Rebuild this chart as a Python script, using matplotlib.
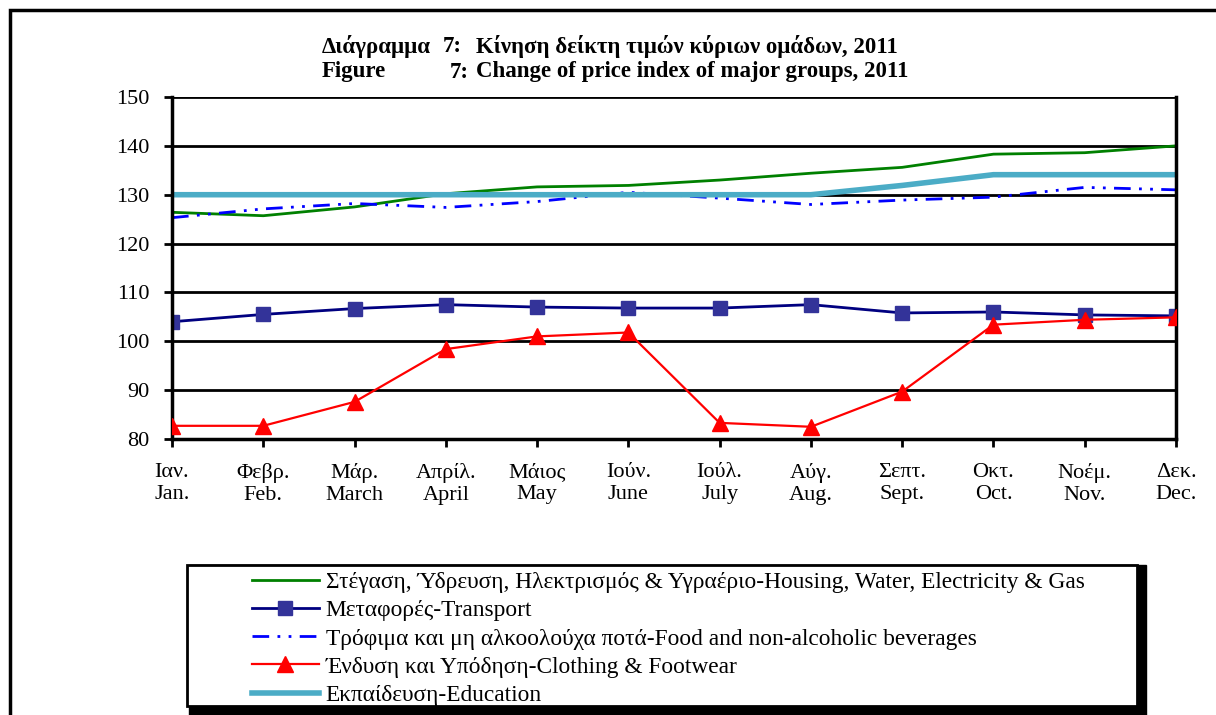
import matplotlib
matplotlib.use('Agg')
import matplotlib.pyplot as plt
from matplotlib.patches import Rectangle

plt.rcParams['font.family'] = ['Liberation Serif', 'DejaVu Serif']

# month labels (Greek / English)
months_gr = ['Ιαν.', 'Φεβρ.', 'Μάρ.', 'Απρίλ.', 'Μάιος', 'Ιούν.', 'Ιούλ.', 'Αύγ.', 'Σεπτ.', 'Οκτ.', 'Νοέμ.', 'Δεκ.']
months_en = ['Jan.', 'Feb.', 'March', 'April', 'May', 'June', 'July', 'Aug.', 'Sept.', 'Oct.', 'Nov.', 'Dec.']

# price index values, 2011
housing = [126.4, 125.7, 127.5, 130.2, 131.6, 131.9, 133.0, 134.4, 135.6, 138.3, 138.6, 140.0]
transport = [104.0, 105.5, 106.7, 107.5, 107.0, 106.8, 106.8, 107.5, 105.8, 106.0, 105.4, 105.2]
food = [125.3, 127.1, 128.2, 127.4, 128.6, 130.5, 129.3, 128.0, 128.9, 129.5, 131.5, 131.0]
clothing = [82.7, 82.7, 87.6, 98.4, 101.0, 101.8, 83.3, 82.5, 89.7, 103.4, 104.4, 104.9]
education = [130.0, 130.0, 130.0, 130.0, 130.0, 130.0, 130.0, 130.0, 131.9, 134.1, 134.1, 134.1]

labels = ['Στέγαση, Ύδρευση, Ηλεκτρισμός & Υγραέριο-Housing, Water, Electricity & Gas',
          'Μεταφορές-Transport',
          'Τρόφιμα και μη αλκοολούχα ποτά-Food and non-alcoholic beverages',
          'Ένδυση και Υπόδηση-Clothing & Footwear',
          'Εκπαίδευση-Education']

W, H = 1216, 715
fig = plt.figure(figsize=(W / 100, H / 100), dpi=100)
ax = fig.add_axes([172 / W, 1 - 439 / H, (1176 - 172) / W, (439 - 97) / H])

x = list(range(len(months_en)))
l1, = ax.plot(x, housing, color='#008000', lw=2)
l2, = ax.plot(x, transport, color='#000080', lw=2, marker='s', ms=10,
              markerfacecolor='#333399', markeredgecolor='#333399')
l3, = ax.plot(x, food, color='#0000FF', lw=2, linestyle=(0, (6, 3, 1, 3, 1, 3)))
l4, = ax.plot(x, clothing, color='#FF0000', lw=1.6, marker='^', ms=11,
              markerfacecolor='#FF0000', markeredgecolor='#FF0000')
l5, = ax.plot(x, education, color='#4BACC6', lw=4)
l4.set_zorder(5)

ax.set_xlim(0, 11)
ax.set_ylim(80, 150)
ax.set_yticks(range(80, 151, 10))
ax.set_xticks(x)
ax.set_xticklabels([g + '\n' + e for g, e in zip(months_gr, months_en)], linespacing=1.25)
ax.tick_params(axis='both', labelsize=16, direction='out', width=2, length=6, colors='black')
ax.tick_params(axis='x', pad=11)
ax.tick_params(axis='y', pad=10)
ax.yaxis.grid(True, color='black', lw=2)
ax.set_axisbelow(True)
for s in ['left', 'bottom', 'right']:
    ax.spines[s].set_linewidth(2.5)
ax.spines['top'].set_visible(False)

# title
fs_t = 16.5
for y, head, x7, rest in [(47, 'Διάγραμμα', 443, 'Κίνηση δείκτη τιμών κύριων ομάδων, 2011'),
                          (72, 'Figure', 450, 'Change of price index of major groups, 2011')]:
    fig.text(322 / W, 1 - y / H, head, fontsize=fs_t, fontweight='bold', va='center')
    fig.text(x7 / W, 1 - y / H, '7:', fontsize=fs_t, fontweight='bold', va='center')
    fig.text(476 / W, 1 - y / H, rest, fontsize=fs_t, fontweight='bold', va='center')

# outer frame (top and left edges visible)
fig.patches.append(Rectangle((10 / W, -0.1), 1.2, 1.1 - 10 / H, transform=fig.transFigure,
                             fill=False, edgecolor='black', lw=2.5))

# legend box with black shadow
fig.patches.append(Rectangle((189 / W, 0), (1146 - 189) / W, (715 - 565) / H,
                             transform=fig.transFigure, facecolor='black', edgecolor='black', zorder=1))
fig.patches.append(Rectangle((187 / W, 1 - 706 / H), (1137 - 187) / W, (706 - 565) / H,
                             transform=fig.transFigure, facecolor='white', edgecolor='black', lw=2, zorder=2))
leg = fig.legend([l1, l2, l3, l4, l5], labels, loc='upper left', bbox_to_anchor=(252 / W, 1 - 572 / H),
                 frameon=False, fontsize=16.8, handlelength=2.85, handletextpad=0.3, labelspacing=0.29,
                 borderaxespad=0, borderpad=0)
leg.set_zorder(3)

fig.savefig('out.png', dpi=100)
